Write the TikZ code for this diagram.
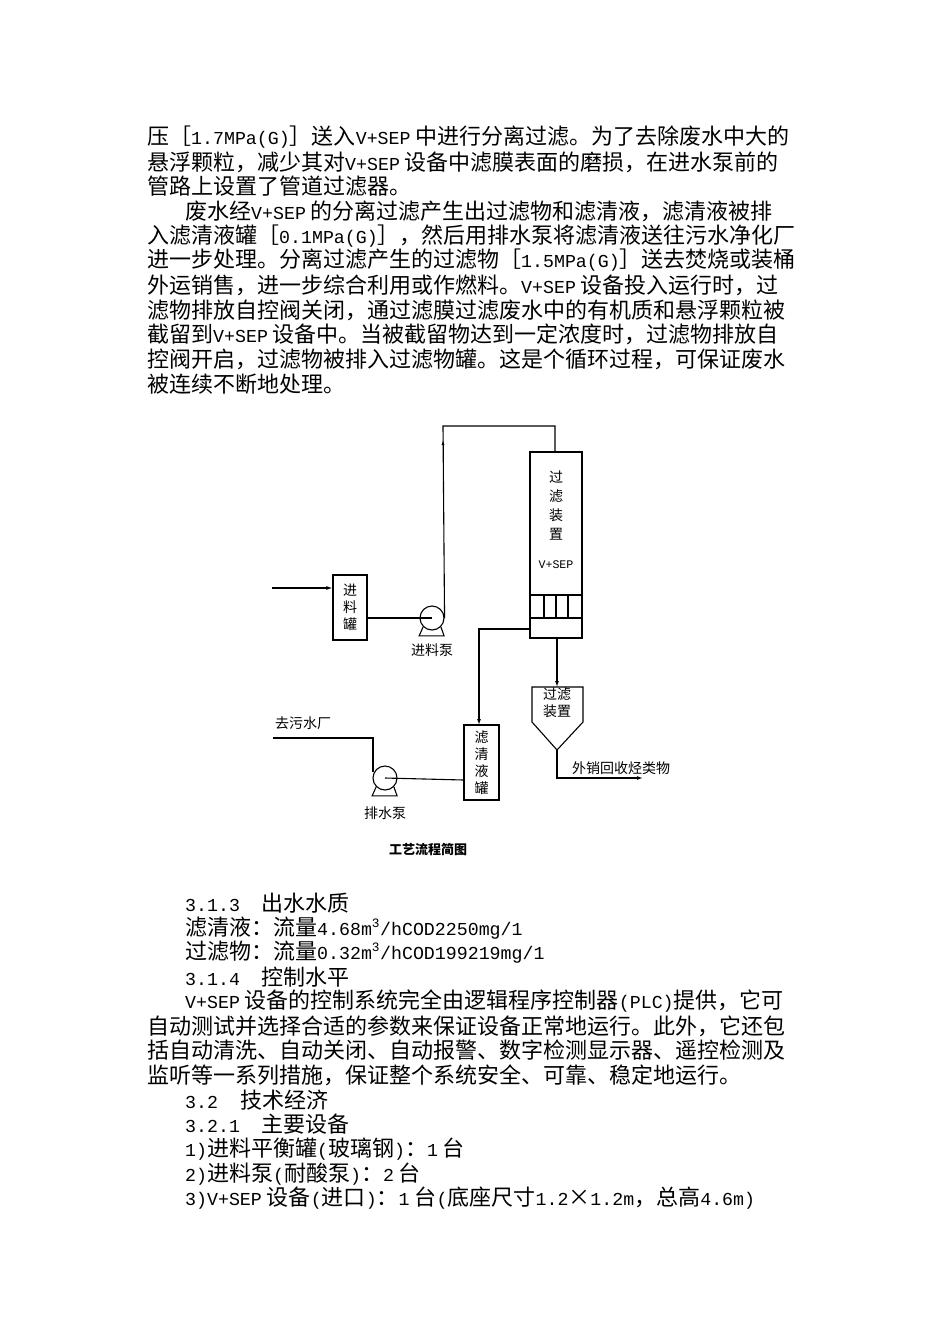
\documentclass[tikz,border=0pt]{standalone}
\usepackage{fontspec}
\setmainfont{Noto Sans CJK SC}
\newfontfamily\lmono{Liberation Mono}[Scale=0.83]
\newcommand{\mm}[1]{{\lmono #1}}
\usetikzlibrary{arrows.meta}
\begin{document}
\begin{tikzpicture}[x=1pt,y=-1pt,
  body/.style={anchor=west,inner sep=0pt,font=\fontsize{22}{24}\selectfont},
  lab/.style={inner sep=0pt,font=\fontsize{14}{17}\selectfont,align=center},
  pipe/.style={line width=1.1pt},
  arr/.style={pipe,-{Latex[length=6pt,width=4pt]}},
  box/.style={draw,line width=1.1pt}]
\useasboundingbox (0,0) rectangle (950,1344);
% top paragraph
\node[body] (t1) at (147,137) {压［\mm{1.7MPa(G)}］送入\mm{V+SEP} 中进行分离过滤。为了去除废水中大的};
\node[body] (t2) at (147,162) {悬浮颗粒，减少其对\mm{V+SEP} 设备中滤膜表面的磨损，在进水泵前的};
\node[body] (t3) at (147,186) {管路上设置了管道过滤器。};
\node[body] (t4) at (185,211) {废水经\mm{V+SEP} 的分离过滤产生出过滤物和滤清液，滤清液被排};
\node[body] (t5) at (147,236) {入滤清液罐［\mm{0.1MPa(G)}］，然后用排水泵将滤清液送往污水净化厂};
\node[body] (t6) at (147,260) {进一步处理。分离过滤产生的过滤物［\mm{1.5MPa(G)}］送去焚烧或装桶};
\node[body] (t7) at (147,285) {外运销售，进一步综合利用或作燃料。\mm{V+SEP} 设备投入运行时，过};
\node[body] (t8) at (147,310) {滤物排放自控阀关闭，通过滤膜过滤废水中的有机质和悬浮颗粒被};
\node[body] (t9) at (147,334) {截留到\mm{V+SEP} 设备中。当被截留物达到一定浓度时，过滤物排放自};
\node[body] (t10) at (147,359) {控阀开启，过滤物被排入过滤物罐。这是个循环过程，可保证废水};
\node[body] (t11) at (147,384) {被连续不断地处理。};
% diagram
% column
\draw[box] (530,452) rectangle (582,638);
\draw[pipe] (530,595) -- (582,595) (530,618) -- (582,618)
  (544,595) -- (544,618) (556,595) -- (556,618) (568,595) -- (568,618);
\node[lab] (col) at (556,505) {过\\[2pt]滤\\[2pt]装\\[2pt]置};
\node[lab] (vsep) at (556,565) {\mm{V+SEP}};
\coordinate (coltop) at (555,452);
% feed tank
\node[box,minimum width=34pt,minimum height=65pt,inner sep=0pt,lab] (feed) at (350,607.5) {进\\料\\罐};
\coordinate (in) at (272,588);
\draw[arr] (in) -- (in -| feed.west);
% pump 1
\node[draw,circle,line width=1.1pt,minimum size=24pt,inner sep=0pt] (p1) at (432,618) {};
\draw[pipe] (p1.south west) -- ++(-4,9) -- ++(24.97,0) -- (p1.south east);
\node[lab] (p1l) at (432,650) {进料泵};
\draw[pipe] (feed.east |- p1) -- (p1.center);
\coordinate (up1) at (443,426);
\draw[pipe] (p1.east) -- (443,426) -- (555,426) -- (coltop);
\draw[-{Latex[length=5pt,width=3pt]},line width=0.8pt] (443,470) -- (443,440);
% filtrate tank
\node[box,minimum width=35pt,minimum height=75pt,inner sep=0pt,lab] (ft) at (481.5,762.5) {滤\\清\\液\\罐};
\coordinate (cl) at (530,629);
\draw[arr] (cl) -- (479,629) -- (479,725);
% pump 2
\node[draw,circle,line width=1.1pt,minimum size=24pt,inner sep=0pt] (p2) at (385,778) {};
\draw[pipe] (p2.south west) -- ++(-4,9) -- ++(24.97,0) -- (p2.south east);
\node[lab] (p2l) at (385,813) {排水泵};
\draw[pipe] (ft.west |- 0,780) -- (p2.center);
\coordinate (out2) at (273,738);
\draw[pipe] (373,772) -- (373,738) -- (out2);
\node[lab,anchor=west] (wwt) at (275,723) {去污水厂};
% hopper
\coordinate (hop) at (557,687);
\draw[arr] (557,638) -- (hop);
\draw[pipe] (532,687) -- (583,687) -- (583,722) -- (557,750) -- (532,722) -- cycle;
\node[lab] (hopl) at (557,703) {过滤\\装置};
\coordinate (outs) at (643,778);
\draw[arr] (557,750) -- (557,778) -- (outs);
\node[lab,anchor=west] (sell) at (572,768) {外销回收烃类物};
\node[lab,font=\fontsize{13}{15}\selectfont\bfseries] (cap) at (428,850) {工艺流程简图};
% bottom text
\node[body] (b1) at (185,903) {\mm{3.1.3}\hspace{1em}出水水质};
\node[body] (b2) at (185,928) {滤清液：流量\mm{4.68m\textsuperscript{3}/hCOD2250mg/1}};
\node[body] (b3) at (185,952) {过滤物：流量\mm{0.32m\textsuperscript{3}/hCOD199219mg/1}};
\node[body] (b4) at (185,977) {\mm{3.1.4}\hspace{1em}控制水平};
\node[body] (b5) at (185,1001) {\mm{V+SEP} 设备的控制系统完全由逻辑程序控制器\mm{(PLC)}提供，它可};
\node[body] (b6) at (147,1026) {自动测试并选择合适的参数来保证设备正常地运行。此外，它还包};
\node[body] (b7) at (147,1050) {括自动清洗、自动关闭、自动报警、数字检测显示器、遥控检测及};
\node[body] (b8) at (147,1075) {监听等一系列措施，保证整个系统安全、可靠、稳定地运行。};
\node[body] (b9) at (185,1100) {\mm{3.2}\hspace{1em}技术经济};
\node[body] (b10) at (185,1124) {\mm{3.2.1}\hspace{1em}主要设备};
\node[body] (b11) at (185,1149) {\mm{1)}进料平衡罐\mm{(}玻璃钢\mm{)}：\mm{1} 台};
\node[body] (b12) at (185,1174) {\mm{2)}进料泵\mm{(}耐酸泵\mm{)}：\mm{2} 台};
\node[body] (b13) at (185,1198) {\mm{3)V+SEP} 设备\mm{(}进口\mm{)}：\mm{1} 台\mm{(}底座尺寸\mm{1.2}×\mm{1.2m}，总高\mm{4.6m)}};
\end{tikzpicture}
\end{document}
